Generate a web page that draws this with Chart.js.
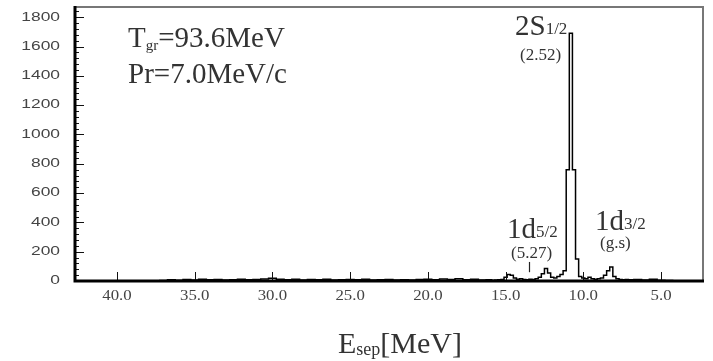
<!DOCTYPE html>
<html>
<head>
<meta charset="utf-8">
<script src="https://cdn.jsdelivr.net/npm/chart.js@4.4.1/dist/chart.umd.min.js"></script>
<style>
  html, body { margin: 0; padding: 0; background: #fff; }
  #wrap { width: 713px; height: 361px; position: relative; }
</style>
</head>
<body>
<div id="wrap"><canvas id="spectrum"></canvas></div>
<script>
// separation energy (MeV), bin centres
const energies = [
  42.5, 42.0, 41.5, 41.0, 40.5, 40.0, 39.5, 39.0, 38.5, 38.0, 37.5,
  37.0, 36.5, 36.0, 35.5, 35.0, 34.5, 34.0, 33.5, 33.0, 32.5, 32.0,
  31.5, 31.0, 30.5, 30.0, 29.5, 29.0, 28.5, 28.0, 27.5, 27.0, 26.5,
  26.0, 25.5, 25.0, 24.5, 24.0, 23.5, 23.0, 22.5, 22.0, 21.5, 21.0,
  20.5, 20.0, 19.5, 19.0, 18.5, 18.0, 17.5, 17.0, 16.5, 16.0,
  15.8, 15.6, 15.4, 15.2, 15.0, 14.8, 14.6, 14.4, 14.2, 14.0, 13.8,
  13.6, 13.4, 13.2, 13.0, 12.8, 12.6, 12.4, 12.2, 12.0, 11.8, 11.6,
  11.4, 11.2, 11.0, 10.8, 10.6, 10.4, 10.2, 10.0, 9.8, 9.6, 9.4,
  9.2, 9.0, 8.8, 8.6, 8.4, 8.2, 8.0, 7.8, 7.6, 7.4, 7.2, 7.0,
  6.5, 6.0, 5.5, 5.0, 4.5, 4.0, 3.5
];
// counts per bin
const counts = [
  0, 0, 0, 0, 0, 0, 0, 0, 0, 0, 0,
  3, 8, 5, 10, 6, 12, 8, 10, 6, 9, 12,
  8, 10, 14, 18, 12, 8, 12, 6, 10, 8, 12,
  6, 9, 10, 8, 12, 6, 8, 10, 6, 9, 7,
  10, 12, 8, 14, 10, 16, 8, 12, 6, 8,
  5, 6, 8, 10, 25, 45, 40, 20, 12, 15, 10,
  8, 12, 10, 15, 25, 50, 85, 55, 25, 20, 30,
  45, 70, 760, 1690, 760, 150, 30, 20, 15, 25, 15,
  12, 15, 20, 40, 70, 95, 30, 15, 10, 8, 10,
  8, 10, 6, 12, 5, 3, 0
];
const xTickValues = [40, 35, 30, 25, 20, 15, 10, 5];
const yTickValues = [0, 200, 400, 600, 800, 1000, 1200, 1400, 1600, 1800];

// frame, inside tick marks, tick labels and peak annotations
const decorations = {
  id: 'decorations',
  afterDraw(chart) {
    const ctx = chart.ctx;
    const xs = chart.scales.x, ys = chart.scales.y;
    const a = chart.chartArea;
    ctx.save();

    // tick marks pointing into the plot
    ctx.strokeStyle = '#111';
    ctx.lineWidth = 1;
    for (let v = 0; v <= 1840; v += 40) {
      const py = Math.round(ys.getPixelForValue(v)) + 0.5;
      const len = v % 200 === 0 ? 9 : 4;
      ctx.beginPath(); ctx.moveTo(a.left, py); ctx.lineTo(a.left + len, py); ctx.stroke();
    }
    xs.ticks.forEach(t => {
      const px = Math.round(xs.getPixelForValue(t.value)) + 0.5;
      ctx.beginPath(); ctx.moveTo(px, a.bottom); ctx.lineTo(px, a.bottom - 9); ctx.stroke();
    });

    // frame
    ctx.strokeStyle = '#777';
    ctx.lineWidth = 2;
    ctx.beginPath();
    ctx.moveTo(a.left, a.top); ctx.lineTo(a.right, a.top); ctx.lineTo(a.right, a.bottom);
    ctx.stroke();
    ctx.strokeStyle = '#000';
    ctx.lineWidth = 3;
    ctx.beginPath();
    ctx.moveTo(a.left, a.top - 1); ctx.lineTo(a.left, a.bottom); ctx.lineTo(a.right + 1, a.bottom);
    ctx.stroke();

    // y tick labels (wide sans)
    ctx.fillStyle = '#444';
    ctx.font = '12px "Liberation Sans"';
    ctx.textBaseline = 'middle';
    ys.ticks.forEach(t => {
      const py = ys.getPixelForValue(t.value);
      ctx.save();
      ctx.translate(60, py);
      ctx.scale(1.45, 1);
      ctx.textAlign = 'right';
      ctx.fillText(String(t.value), 0, 0);
      ctx.restore();
    });

    // x tick labels (wide serif)
    ctx.font = '14px "Liberation Serif"';
    ctx.textBaseline = 'alphabetic';
    xs.ticks.forEach(t => {
      const px = xs.getPixelForValue(t.value);
      ctx.save();
      ctx.translate(px, 300);
      ctx.scale(1.2, 1);
      ctx.textAlign = 'center';
      ctx.fillText(t.value.toFixed(1), 0, 0);
      ctx.restore();
    });

    // mixed-size text runs: [text, size, dy]
    function runs(x, y, parts) {
      ctx.textAlign = 'left';
      parts.forEach(([txt, size, dy]) => {
        ctx.font = size + 'px "Liberation Serif"';
        ctx.fillText(txt, x, y + (dy || 0));
        x += ctx.measureText(txt).width;
      });
    }
    ctx.fillStyle = '#333';
    runs(128, 47, [['T', 29], ['gr', 15, 3], ['=93.6MeV', 29]]);
    runs(128, 83, [['Pr=7.0MeV/c', 29]]);

    runs(515, 35, [['2S', 29], ['1/2', 17, -1]]);
    runs(520, 60, [['(2.52)', 17]]);

    runs(507, 238, [['1d', 29], ['5/2', 17, -1]]);
    runs(511, 258, [['(5.27)', 17]]);

    runs(595, 230, [['1d', 29], ['3/2', 17, -1]]);
    runs(600, 248, [['(g.s)', 17]]);

    runs(338, 353, [['E', 30], ['sep', 18, 2], ['[MeV]', 30]]);

    // marker under the 1d5/2 label
    const mx = Math.round(xs.getPixelForValue(13.5)) + 0.5;
    ctx.strokeStyle = '#222';
    ctx.lineWidth = 1.2;
    ctx.beginPath();
    ctx.moveTo(mx, ys.getPixelForValue(130));
    ctx.lineTo(mx, ys.getPixelForValue(60));
    ctx.stroke();

    ctx.restore();
  }
};

new Chart(document.getElementById('spectrum'), {
  type: 'line',
  data: {
    datasets: [{
      data: energies.map((e, i) => ({ x: e, y: counts[i] })),
      stepped: 'middle',
      borderColor: '#000',
      borderWidth: 1.5,
      pointRadius: 0,
      fill: false
    }]
  },
  options: {
    responsive: true,
    maintainAspectRatio: false,
    animation: false,
    layout: { padding: { top: 7, right: 10, left: 0, bottom: 0 } },
    plugins: { legend: { display: false }, tooltip: { enabled: false } },
    scales: {
      x: {
        type: 'linear',
        reverse: true,
        min: 2.3,
        max: 42.7,
        afterBuildTicks: s => { s.ticks = xTickValues.map(v => ({ value: v })); },
        afterFit: s => { s.height = 80; },
        ticks: { display: false },
        grid: { display: false },
        border: { display: false }
      },
      y: {
        min: 0,
        max: 1870,
        afterBuildTicks: s => { s.ticks = yTickValues.map(v => ({ value: v })); },
        afterFit: s => { s.width = 75; },
        ticks: { display: false },
        grid: { display: false },
        border: { display: false }
      }
    }
  },
  plugins: [decorations]
});
</script>
</body>
</html>
